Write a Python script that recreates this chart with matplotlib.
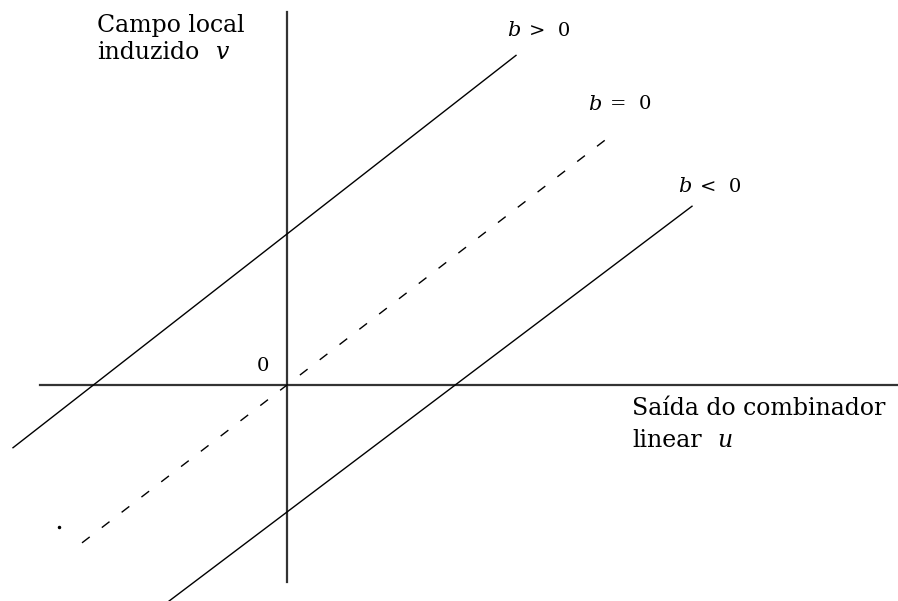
import matplotlib
matplotlib.use("Agg")
import matplotlib.pyplot as plt
import numpy as np

# three lines v = slope*u + b (units: pixels of the original drawing, origin at the axes crossing)
bias = [151, 0, -127]
slopes = [0.78, 0.77, 0.755]
u_start = [-274, -205, -119]
u_end = [229, 318, 405]
styles = ["-", "--", "-"]
line_labels = [">  0", "=  0", "<  0"]
label_pos = [(220, 354), (301, 281), (391, 198)]

plt.rcParams["font.family"] = ["DejaVu Serif"]
plt.rcParams["mathtext.fontset"] = "dejavuserif"

fig = plt.figure(figsize=(8.98, 6.01), dpi=100)
ax = fig.add_axes([0, 0, 1, 1])
ax.set_xlim(-287, 611)
ax.set_ylim(-216, 385)
ax.axis("off")

# axes
ax.plot([-247, 611], [0, 0], color="#333333", lw=1.6)
ax.plot([0, 0], [-197, 373], color="#333333", lw=1.6)

for b, m, a, e, ls, lab, (tx, ty) in zip(bias, slopes, u_start, u_end,
                                         styles, line_labels, label_pos):
    u = np.array([a, e])
    line, = ax.plot(u, m * u + b, color="black", lw=1.0, ls=ls)
    if ls == "--":
        line.set_dashes((7, 11))
    ax.text(tx, ty, "$b$", fontsize=15, ha="left", va="center")
    ax.text(tx + 22, ty, lab, fontsize=14, ha="left", va="center")

# stray dot at the lower end of the dashed line
ax.plot([-228], [-142], marker="o", ms=1.5, color="black")

ax.text(-190, 371, "Campo local", fontsize=17, ha="left", va="top")
ax.text(-190, 344, "induzido", fontsize=17, ha="left", va="top")
ax.text(-72, 344, "$v$", fontsize=17, ha="left", va="top")

ax.text(-30, 19, "0", fontsize=14, ha="left", va="center")

ax.text(345, -12, "Saída do combinador", fontsize=17, ha="left", va="top")
ax.text(345, -44, "linear", fontsize=17, ha="left", va="top")
ax.text(430, -44, "$u$", fontsize=17, ha="left", va="top")

fig.savefig("out.png", dpi=100)
